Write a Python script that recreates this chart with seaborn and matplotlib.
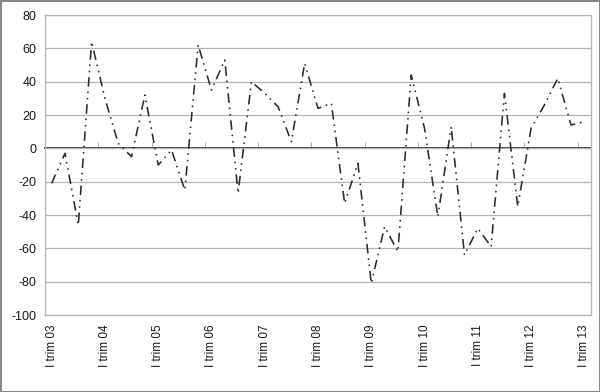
import numpy as np
import pandas as pd
import seaborn as sns
import matplotlib
matplotlib.use("Agg")
import matplotlib.pyplot as plt

# quarterly values, I trim 03 .. I trim 13
values = [-21, -3, -46, 64, 30, 3, -5, 32, -10, -1,
          -25, 62, 35, 53, -27, 40, 33, 25, 4, 51,
          24, 27, -33, -9, -81, -47, -62, 44, 12, -41,
          13, -64, -48, -59, 33, -35, 12, 26, 42, 14, 16]
years = ["03", "04", "05", "06", "07", "08", "09", "10", "11", "12", "13"]
quarters = ["I", "II", "III", "IV"]
categories = [f"{q} trim {y}" for y in years for q in quarters][:len(values)]
y_ticks = list(range(-100, 81, 20))

df = pd.DataFrame({"idx": np.arange(len(values)), "val": values, "cat": categories})

sns.set_theme(style="white")
plt.rcParams["font.family"] = ["Liberation Sans", "DejaVu Sans"]

grid_col = "#b4b4b4"

fig = plt.figure(figsize=(6, 3.92), dpi=100)
fig.patch.set_edgecolor("#888888")
fig.patch.set_linewidth(1.0)
ax = fig.add_axes([0.075, 0.1964, 0.91, 0.7653])

for v in y_ticks:
    ax.axhline(v, color=grid_col, lw=0.9, zorder=1)

sns.lineplot(data=df, x="idx", y="val", ax=ax, color="#2b2b2b", linewidth=1.15,
             linestyle=(0, (6, 3, 1, 3, 1, 3)), zorder=3)

ax.set_xlim(-0.5, len(values) - 0.5)
ax.set_ylim(-100, 80)
ax.set_yticks(y_ticks)
ax.set_yticklabels([str(v) for v in y_ticks], fontsize=9, color="#1a1a1a")
ax.tick_params(axis="y", length=4, width=0.8, color=grid_col, pad=2)

lab_pos = df["idx"][::4]
ax.set_xticks(lab_pos)
ax.set_xticklabels(df["cat"][::4], rotation=90, fontsize=8.5, color="#1a1a1a")
ax.tick_params(axis="x", length=0, pad=7)
ax.set_xlabel("")
ax.set_ylabel("")

for s in ax.spines.values():
    s.set_color(grid_col)
    s.set_linewidth(0.9)

# category axis crossing at zero, with tick marks between categories
sec = ax.secondary_xaxis(100 / 180)
sec.set_xticks(np.arange(-0.5, len(values), 4))
sec.set_xticklabels([])
sec.tick_params(axis="x", direction="out", length=4, width=0.8, color=grid_col)
sec.spines["bottom"].set_color(grid_col)
sec.spines["bottom"].set_linewidth(0.9)

fig.savefig("out.png", dpi=100)
